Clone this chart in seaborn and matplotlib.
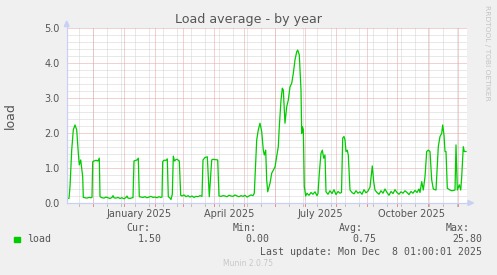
import numpy as np
import pandas as pd
import matplotlib
matplotlib.use("Agg")
import matplotlib.pyplot as plt
import seaborn as sns
from matplotlib.patches import Rectangle, Polygon
from matplotlib.lines import Line2D

# ---------------- data ----------------
START = "2024-11-05"          # left edge of the 400-day window
WINDOW_DAYS = 400

day_offsets = [
    0, 2, 3, 4.7, 6.3, 8, 9.7, 11.3, 12.3, 13.7, 14.7, 15.7, 16.3,
    18, 20, 22, 24, 25,
    25.7, 27, 29, 31, 32.3, 33,
    35, 37, 39, 41, 43, 45, 46, 47, 49, 51, 53, 55, 57, 59, 60, 61, 63, 65, 66,
    67, 69, 70, 71.3, 72.3,
    74, 76, 78, 80, 82, 84, 86, 88, 90, 92, 94, 95,
    95.7, 97, 99, 100.3, 101.3, 103, 104, 105.3,
    106.3, 107.5, 109, 110, 112.3, 113.7,
    115, 117, 119, 121, 123, 125, 127, 129, 131, 133, 135,
    136, 138, 140.3, 142.3, 144.7, 146, 148, 150.7, 152,
    154, 156, 158, 160, 162, 164, 166, 168, 170, 172, 174, 176, 178, 180, 182, 184, 186,
    187.3, 189.7, 191.3, 193, 194.7, 196.3, 197.3, 198.7, 199.7, 200.7, 203, 204.7,
    206.3, 208, 209.7, 211.3, 212.3, 214, 215.3, 216.3, 218, 219.7, 221.3, 223,
    224.7, 226.3, 228, 229.7, 230.7, 232.3, 234, 234.7, 235.3, 236.3, 237.3, 238.7,
    240, 242, 244, 246, 248, 250, 251,
    252.3, 254, 255.3, 256.7, 258, 259,
    261, 263, 265, 267, 269, 271, 273, 274.5,
    275.7, 277, 278, 279, 280.3, 281.3, 283,
    285, 287, 289, 291, 293, 295, 297, 299, 301, 302,
    303, 305.3, 306.7, 308,
    310, 312, 314, 316, 318, 320, 322, 324, 326, 328, 330, 332, 334, 336, 338,
    340, 342, 344, 346, 348, 350, 352,
    353, 354.7, 356.3, 358, 359.7, 361.3, 363, 364.7, 366.3, 369,
    369.7, 371.3, 373, 374.7, 375.7, 377, 378, 379, 380.3, 383, 385, 388,
    389, 390.3, 392.3, 393.7, 394.7, 396.3, 397.3, 399,
]

load_values = [
    0.13, 0.13, 0.47, 1.51, 2.09, 2.23, 2.09, 1.43, 1.09, 1.23, 1.00, 0.75, 0.16,
    0.15, 0.14, 0.16, 0.15, 0.16,
    1.18, 1.20, 1.22, 1.20, 1.28, 0.18,
    0.15, 0.14, 0.17, 0.15, 0.13, 0.16, 0.21, 0.15, 0.14, 0.16, 0.13, 0.15, 0.12,
    0.16, 0.20, 0.14, 0.13, 0.15, 0.15,
    1.20, 1.22, 1.23, 1.28, 0.18,
    0.17, 0.16, 0.18, 0.15, 0.17, 0.19, 0.16, 0.17, 0.15, 0.18, 0.16, 0.17,
    1.18, 1.22, 1.22, 1.26, 0.18, 0.14, 0.10, 0.25,
    1.34, 1.20, 1.24, 1.25, 1.20, 0.22,
    0.20, 0.23, 0.18, 0.21, 0.17, 0.20, 0.16, 0.19, 0.18, 0.21, 0.19,
    1.23, 1.30, 1.32, 0.18, 1.23, 1.25, 1.24, 1.23, 0.20,
    0.19, 0.21, 0.20, 0.18, 0.22, 0.20, 0.19, 0.23, 0.20, 0.18, 0.21, 0.19,
    0.22, 0.17, 0.20, 0.23, 0.21,
    0.28, 1.80, 2.09, 2.28, 2.04, 1.51, 1.37, 1.51, 0.66, 0.32, 0.56, 0.85,
    0.94, 1.03, 1.32, 1.61, 2.18, 2.94, 3.28, 3.23, 2.28, 2.75, 2.94, 3.32,
    3.42, 3.70, 4.09, 4.32, 4.37, 4.23, 3.23, 1.99, 2.18, 2.10, 0.47, 0.20,
    0.28, 0.22, 0.30, 0.25, 0.32, 0.21, 0.27,
    0.85, 1.42, 1.51, 1.28, 1.37, 0.32,
    0.25, 0.35, 0.27, 0.38, 0.24, 0.33, 0.28, 0.30,
    1.85, 1.90, 1.80, 1.47, 1.51, 1.37, 0.37,
    0.30, 0.26, 0.35, 0.28, 0.32, 0.25, 0.38, 0.29, 0.34, 0.40,
    0.45, 1.06, 0.61, 0.37,
    0.30, 0.25, 0.35, 0.28, 0.40, 0.30, 0.22, 0.33, 0.27, 0.38, 0.30, 0.25,
    0.32, 0.28, 0.35, 0.30, 0.24, 0.33, 0.28, 0.36, 0.30, 0.40,
    0.30, 0.61, 0.37, 0.75, 1.47, 1.51, 1.47, 0.66, 0.40, 0.37,
    0.75, 1.61, 1.90, 1.99, 2.23, 1.94, 1.47, 1.47, 0.42, 0.37, 0.35, 0.37,
    1.66, 0.37, 0.52, 0.37, 0.75, 1.61, 1.47, 1.47,
]

tick_dates = ["2025-01-16", "2025-04-16", "2025-07-16", "2025-10-16"]
tick_labels = ["January 2025", "April 2025", "July 2025", "October 2025"]
y_ticks = [0.0, 1.0, 2.0, 3.0, 4.0, 5.0]

series_name = "load"
stat_names = ["Cur:", "Min:", "Avg:", "Max:"]
stat_values = ["1.50", "0.00", "0.75", "25.80"]
last_update = "Last update: Mon Dec  8 01:00:01 2025"
title = "Load average - by year"

# ---------------- figure ----------------
W, H = 497, 275
def fx(x): return x / W
def fy(y): return 1 - y / H

TXT = "#555555"
GREEN = "#00cc00"
AXISC = "#c9d0f5"
MINOR = "#d2d2d2"
MAJOR = "#eba5a5"

fig = plt.figure(figsize=(W / 100, H / 100), dpi=100, facecolor="#F0F0F0")
ax = fig.add_axes([fx(67), fy(203), 400 / W, 175 / H])
ax.set_facecolor("white")

x0 = pd.Timestamp(START)
x1 = x0 + pd.Timedelta(days=WINDOW_DAYS)
dates = x0 + pd.to_timedelta(day_offsets, unit="D")
df = pd.DataFrame({"date": dates, "load": load_values})

dot = (0, (1, 1))
gkw = dict(lw=0.72, ls=dot)
# vertical grid: minor every two weeks, major at month starts
for d in pd.date_range("2024-11-17", x1, freq="14D"):
    ax.axvline(d, color=MINOR, zorder=1, **gkw)
    ax.axvline(d, ymin=-3 / 175, ymax=0, color="#c0c0c0", lw=0.72, clip_on=False, zorder=1)
for d in pd.date_range("2024-12-01", x1, freq="MS"):
    ax.axvline(d, color=MAJOR, zorder=1.5, **gkw)
    ax.axvline(d, ymin=-3 / 175, ymax=0, color="#e49090", lw=0.72, clip_on=False, zorder=1.5)
# horizontal grid
for v in np.arange(0.2, 5.01, 0.2):
    if abs(v - round(v)) > 1e-6:
        ax.axhline(v, color=MINOR, zorder=1, **gkw)
for v in y_ticks[1:]:
    ax.axhline(v, color=MAJOR, zorder=1.5, **gkw)

sns.lineplot(data=df, x="date", y="load", ax=ax, color=GREEN, lw=0.9, zorder=3)

ax.set_xlim(x0, x1)
ax.set_ylim(0, 5)
ax.set_xlabel("")
ax.set_ylabel("")
for s in ax.spines.values():
    s.set_visible(False)
ax.grid(False)
ax.set_xticks(pd.to_datetime(tick_dates))
ax.set_xticklabels(tick_labels)
ax.set_yticks(y_ticks)
ax.set_yticklabels([f"{v:.1f}" for v in y_ticks])
ax.tick_params(axis="both", length=0, labelsize=7, colors=TXT)
ax.tick_params(axis="x", pad=4)
ax.tick_params(axis="y", pad=5)

# axis lines with arrows (figure pixel coords)
fig.add_artist(Line2D([fx(66.7), fx(66.7)], [fy(203), fy(24)], color=AXISC, lw=0.9))
fig.add_artist(Line2D([fx(66.5), fx(470)], [fy(203), fy(203)], color=AXISC, lw=0.9))
fig.add_artist(Polygon([(fx(64.3), fy(26.5)), (fx(69.1), fy(26.5)), (fx(66.7), fy(21))],
                       closed=True, color=AXISC, transform=fig.transFigure))
fig.add_artist(Polygon([(fx(468), fy(200.5)), (fx(468), fy(205.5)), (fx(473.5), fy(203))],
                       closed=True, color=AXISC, transform=fig.transFigure))

# title and labels
fig.text(fx(248.5), fy(19), title, ha="center", va="center", fontsize=9.1, color=TXT)
fig.text(fx(10), fy(116), "load", ha="center", va="center", rotation=90, fontsize=9.0, color=TXT)
fig.text(fx(487), fy(53), "RRDTOOL / TOBI OETIKER", ha="center", va="center", rotation=270,
         fontsize=5.4, color="#c4c4c4")

# legend
mono = "DejaVu Sans Mono"
fig.add_artist(Rectangle((fx(14), fy(242)), 5.5 / W, 5.5 / H, color=GREEN, transform=fig.transFigure))
fig.text(fx(27), fy(239.3), series_name, ha="left", va="center", family=mono, fontsize=7.1, color=TXT)
name_right = [150, 257, 363, 470]
val_right = [162, 269, 376, 482]
for nm, val, xn, xv in zip(stat_names, stat_values, name_right, val_right):
    fig.text(fx(xn), fy(227.7), nm, ha="right", va="center", family=mono, fontsize=7.1, color=TXT)
    fig.text(fx(xv), fy(239.3), val, ha="right", va="center", family=mono, fontsize=7.1, color=TXT)
fig.text(fx(482), fy(251.7), last_update, ha="right", va="center", family=mono, fontsize=7.1, color=TXT)
fig.text(fx(248), fy(264), "Munin 2.0.75", ha="center", va="center", fontsize=5.5, color="#c8c8c8")

fig.savefig("out.png", dpi=100, facecolor=fig.get_facecolor())
